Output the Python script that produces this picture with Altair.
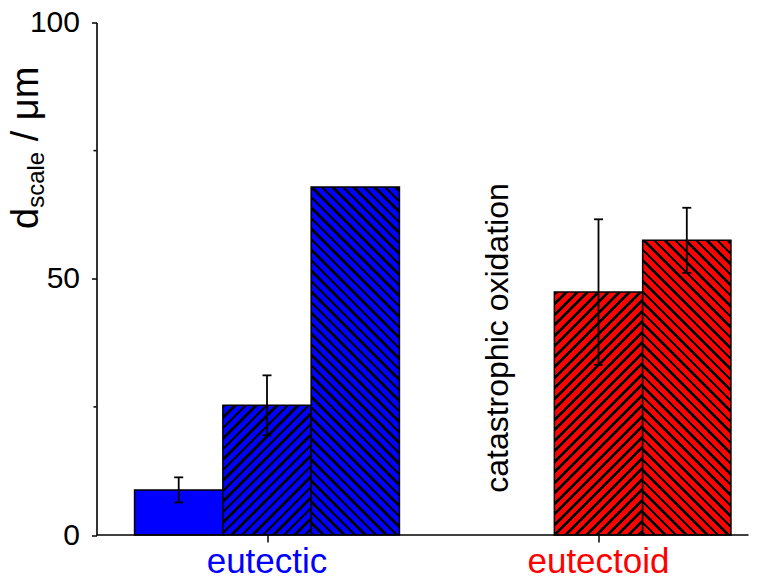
import altair as alt
import pandas as pd

# ---------------- data ----------------
groups = ["eutectic", "eutectic", "eutectic", "eutectoid", "eutectoid"]
slots = ["plain", "fwd", "back", "fwd", "back"]
values = [8.8, 25.3, 67.9, 47.4, 57.5]
errors = [2.45, 5.85, None, 14.2, 6.35]

group_names = ["eutectic", "eutectoid"]
group_colors = ["#0000FF", "#FF0000"]
slot_names = ["plain", "fwd", "back"]
slot_hatch = {"plain": None, "fwd": "/", "back": "\\"}

y_major = [0, 50, 100]
y_minor = [25, 75]

note_text = ["catastrophic oxidation"]
note_group = ["eutectoid"]
note_slot = ["plain"]

title_main = "d"
title_sub = "scale"
title_rest = "/ μm"

# ---------------- layout (x in units of one bar width) ----------------
FONT = "Liberation Sans"
W_PLOT = 652
H_PLOT = 512.5
Y_MAX = 100
BAR_PX = 88.3
X_MAX = W_PLOT / BAR_PX
GROUP0 = 170.5 / BAR_PX        # centre of the middle slot of the first group
GROUP_STEP = 331.5 / BAR_PX    # distance between group centres
CAP_HALF = 4.5 / BAR_PX
PX_PER_UNIT = H_PLOT / Y_MAX
HATCH_PERIOD = 10.5
HATCH_FRAC = 0.36

color_of = dict(zip(group_names, group_colors))


def slot_center(g, s):
    return GROUP0 + group_names.index(g) * GROUP_STEP + (slot_names.index(s) - 1)


def hatch_gradient(w, h, color, direction):
    L = w + h
    stops = []
    k = 0
    while k * HATCH_PERIOD < L:
        t0 = k * HATCH_PERIOD / L
        t1 = min((k * HATCH_PERIOD + HATCH_FRAC * HATCH_PERIOD) / L, 1.0)
        t2 = min((k + 1) * HATCH_PERIOD / L, 1.0)
        stops += [
            {"offset": round(t0, 5), "color": "black"},
            {"offset": round(t1, 5), "color": "black"},
            {"offset": round(t1, 5), "color": color},
            {"offset": round(t2, 5), "color": color},
        ]
        k += 1
    kk = (w + h) / (w * w + h * h)
    a, b = w * kk, h * kk
    if direction == "/":
        x1, y1, x2, y2 = 0, 0, a, b
    else:
        x1, y1, x2, y2 = 0, 1, a, 1 - b
    return {"gradient": "linear", "x1": x1, "y1": y1, "x2": x2, "y2": y2, "stops": stops}


df = pd.DataFrame({"id": list(range(len(values))), "group": groups, "slot": slots,
                   "value": values, "err": errors})
df["xc"] = [slot_center(g, s) for g, s in zip(groups, slots)]
df["x0"] = df["xc"] - 0.5
df["x1"] = df["xc"] + 0.5
df_err = df.dropna(subset=["err"]).copy()
df_err["lo"] = df_err["value"] - df_err["err"]
df_err["hi"] = df_err["value"] + df_err["err"]

tick_positions = [slot_center(g, "fwd") for g in group_names]

x_scale = alt.Scale(domain=[0, X_MAX], nice=False, zero=False)
x_axis = alt.Axis(title=None, labels=False, domain=False, ticks=True, tickSize=7,
                  tickWidth=1.5, tickColor="black", grid=False, values=tick_positions)
y_scale = alt.Scale(domain=[0, Y_MAX], nice=False)
y_axis = alt.Axis(title=None, values=y_major, grid=False, tickSize=5, tickWidth=1.5,
                  tickColor="black", domainColor="black", domainWidth=1.6,
                  labelFont=FONT, labelFontSize=30, labelColor="black", labelPadding=12)


def X(field):
    return alt.X(f"{field}:Q", scale=x_scale, axis=x_axis)


def Y(field):
    return alt.Y(f"{field}:Q", scale=y_scale, axis=y_axis)


layers = []
for i in range(len(values)):
    g, s, v = groups[i], slots[i], values[i]
    base = alt.Chart(df).transform_filter(alt.datum.id == i)
    if slot_hatch[s] is None:
        fill = color_of[g]
    else:
        fill = hatch_gradient(BAR_PX, v * PX_PER_UNIT, color_of[g], slot_hatch[s])
    layers.append(
        base.mark_bar(fill=fill, stroke="black", strokeWidth=1.5).encode(
            x=X("x0"), x2="x1:Q", y=Y("value"), y2=alt.datum(0),
        )
    )

err_base = alt.Chart(df_err)
layers.append(
    err_base.mark_rule(color="black", strokeWidth=1.8).encode(
        x=X("xc"), y=Y("lo"), y2="hi:Q",
    )
)
for fld in ["lo", "hi"]:
    layers.append(
        err_base.transform_calculate(c0=f"datum.xc - {CAP_HALF}", c1=f"datum.xc + {CAP_HALF}")
        .mark_rule(color="black", strokeWidth=1.8).encode(
            x=X("c0"), x2="c1:Q", y=Y(fld),
        )
    )

# minor y ticks
layers.append(
    alt.Chart(pd.DataFrame({"v": y_minor})).mark_rule(color="black", strokeWidth=1.5).encode(
        y=Y("v"), x=alt.value(-3), x2=alt.value(0)
    )
)

# x axis line
layers.append(
    alt.Chart(pd.DataFrame({"v": [0]})).mark_rule(color="black", strokeWidth=1.6).encode(
        y=Y("v"), x=alt.value(0), x2=alt.value(W_PLOT)
    )
)

# group labels
layers.append(
    alt.Chart(pd.DataFrame({"group": group_names, "xc": tick_positions})).mark_text(
        font=FONT, fontSize=35, baseline="alphabetic", align="center"
    ).encode(
        x=X("xc"), y=alt.value(H_PLOT + 38), text="group:N",
        color=alt.Color("group:N", scale=alt.Scale(domain=group_names, range=group_colors), legend=None),
    )
)

# annotation
note_x = [slot_center(g, s) for g, s in zip(note_group, note_slot)]
layers.append(
    alt.Chart(pd.DataFrame({"xc": note_x, "t": note_text})).mark_text(
        font=FONT, fontSize=32, angle=270, align="center", baseline="alphabetic", dy=-2,
        color="black"
    ).encode(x=X("xc"), y=alt.value(315.5), text="t:N")
)

# y title: d_scale / μm
TX = -58.5
F_MAIN, F_SUB = 38, 24
Y0 = 206.5
y_sub = Y0 - 0.556 * F_MAIN
y_rest = y_sub - 2.334 * F_SUB - 0.278 * F_MAIN
layers.append(
    alt.Chart(pd.DataFrame({"t": [title_main]})).mark_text(
        font=FONT, fontSize=F_MAIN, angle=270, align="left", baseline="alphabetic", color="black"
    ).encode(x=alt.value(TX), y=alt.value(Y0), text="t:N")
)
layers.append(
    alt.Chart(pd.DataFrame({"t": [title_sub]})).mark_text(
        font=FONT, fontSize=F_SUB, angle=270, align="left", baseline="alphabetic", color="black"
    ).encode(x=alt.value(TX + 6), y=alt.value(y_sub), text="t:N")
)
layers.append(
    alt.Chart(pd.DataFrame({"t": [title_rest]})).mark_text(
        font=FONT, fontSize=F_MAIN, angle=270, align="left", baseline="alphabetic", color="black"
    ).encode(x=alt.value(TX), y=alt.value(y_rest), text="t:N")
)

chart = alt.layer(*layers).properties(
    width=W_PLOT, height=H_PLOT,
    autosize=alt.AutoSizeParams(type="none"),
    padding={"left": 88.5, "top": 14.5, "right": 0, "bottom": 41},
).configure_view(stroke=None)

chart.save("out.html", embed_options={"renderer": "svg", "actions": False})
